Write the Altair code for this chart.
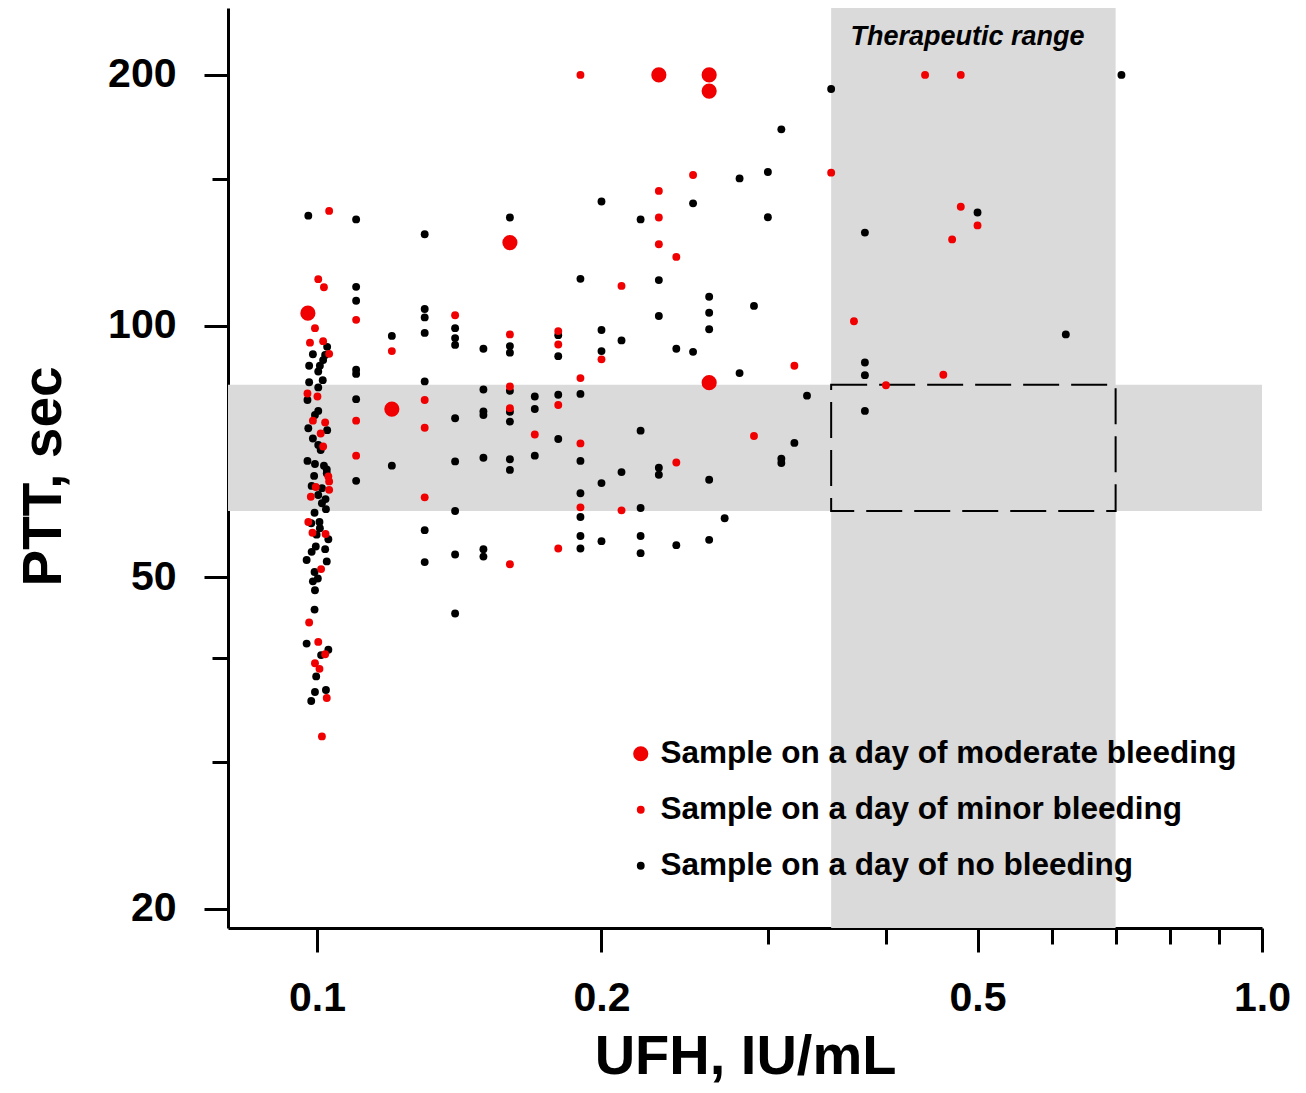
import altair as alt
import pandas as pd

FONT = "Liberation Sans"

LBL_MOD = "Sample on a day of moderate bleeding"
LBL_MIN = "Sample on a day of minor bleeding"
LBL_NONE = "Sample on a day of no bleeding"
groups = [LBL_MOD, LBL_MIN, LBL_NONE]

# (UFH IU/mL, PTT sec)
moderate_pts = [(0.0978, 103.6), (0.12, 79.5), (0.16, 125.9), (0.23, 200),
                (0.26, 200), (0.26, 191.3), (0.26, 85.5)]

minor_pts = [
    (0.1030, 137.4), (0.1003, 113.8), (0.1017, 111.3), (0.0995, 99.4), (0.0983, 95.5),
    (0.1015, 95.9), (0.1030, 92.6), (0.0977, 83.0), (0.1001, 82.3), (0.0990, 77.0),
    (0.1020, 76.6), (0.1009, 74.3), (0.1015, 71.7), (0.1028, 66.0), (0.1030, 65.1),
    (0.0997, 64.1), (0.1030, 63.6), (0.0985, 62.4), (0.0979, 58.2), (0.0989, 56.5),
    (0.1021, 56.3), (0.1010, 51.1), (0.0981, 44.1), (0.1003, 41.8), (0.1020, 40.4),
    (0.0995, 39.4), (0.1006, 38.8), (0.1024, 35.8), (0.1012, 32.2),
    (0.11, 101.7), (0.11, 77.0), (0.11, 69.9),
    (0.12, 93.3),
    (0.13, 81.5), (0.13, 75.5), (0.13, 62.3),
    (0.14, 103.0),
    (0.16, 97.7), (0.16, 84.6), (0.16, 79.7), (0.16, 51.8),
    (0.17, 74.1),
    (0.18, 98.6), (0.18, 95.0), (0.18, 80.4), (0.18, 54.1),
    (0.19, 200), (0.19, 86.6), (0.19, 72.3), (0.19, 60.6),
    (0.20, 91.2),
    (0.21, 111.7), (0.21, 60.1),
    (0.23, 145.2), (0.23, 134.9), (0.23, 125.3),
    (0.24, 121.0), (0.24, 68.6),
    (0.25, 151.7), (0.29, 73.8), (0.32, 89.6), (0.35, 152.7), (0.37, 101.3),
    (0.40, 84.9), (0.44, 200), (0.46, 87.4), (0.47, 127.0),
    (0.48, 200), (0.48, 139.0), (0.50, 132.0),
]

none_pts = [
    (0.0979, 135.6), (0.1025, 94.4), (0.0990, 92.5), (0.1020, 92.3), (0.1015, 91.0),
    (0.0981, 89.6), (0.1007, 89.6), (0.1003, 88.2), (0.1014, 86.1), (0.0981, 85.6),
    (0.1003, 84.4), (0.0977, 81.5), (0.1003, 79.1), (0.0995, 78.2), (0.0979, 75.4),
    (0.1025, 75.0), (0.0990, 73.3), (0.1003, 72.0), (0.1009, 71.0), (0.0977, 68.9),
    (0.0995, 68.3), (0.1017, 68.0), (0.1024, 67.3), (0.0993, 66.1), (0.1024, 66.6),
    (0.0987, 64.3), (0.1012, 63.9), (0.1003, 62.7), (0.1021, 62.0), (0.1012, 61.3),
    (0.1022, 60.3), (0.0994, 59.7), (0.0986, 58.0), (0.1006, 58.2), (0.1007, 57.2),
    (0.0999, 56.2), (0.1028, 55.5), (0.0997, 54.4), (0.1020, 54.0), (0.0987, 53.6),
    (0.0975, 52.4), (0.1024, 52.2), (0.0994, 50.7), (0.1002, 49.8), (0.0990, 49.4),
    (0.0995, 48.2), (0.0994, 45.7), (0.0975, 41.6), (0.1028, 40.9), (0.1010, 40.3),
    (0.0998, 38.0), (0.0995, 36.4), (0.1022, 36.6), (0.0986, 35.5),
    (0.11, 134.2), (0.11, 111.4), (0.11, 107.2), (0.11, 88.6), (0.11, 87.6), (0.11, 81.7), (0.11, 65.2),
    (0.12, 97.3), (0.12, 68.0),
    (0.13, 128.8), (0.13, 104.8), (0.13, 102.4), (0.13, 98.1), (0.13, 85.8), (0.13, 56.9), (0.13, 52.1),
    (0.14, 99.4), (0.14, 96.7), (0.14, 94.9), (0.14, 77.5), (0.14, 68.8), (0.14, 60.0), (0.14, 53.2), (0.14, 45.2),
    (0.15, 93.9), (0.15, 83.9), (0.15, 79.0), (0.15, 78.2), (0.15, 69.5), (0.15, 54.0), (0.15, 52.9),
    (0.16, 134.9), (0.16, 94.6), (0.16, 92.9), (0.16, 83.6), (0.16, 78.9), (0.16, 76.8), (0.16, 69.2), (0.16, 67.2),
    (0.17, 82.3), (0.17, 79.5), (0.17, 69.9),
    (0.18, 97.5), (0.18, 92.0), (0.18, 82.7), (0.18, 73.2),
    (0.19, 113.9), (0.19, 82.9), (0.19, 68.9), (0.19, 63.0), (0.19, 59.0), (0.19, 56.0), (0.19, 54.1),
    (0.20, 141.0), (0.20, 98.9), (0.20, 93.3), (0.20, 64.8), (0.20, 55.2),
    (0.21, 96.1), (0.21, 66.8),
    (0.22, 134.2), (0.22, 74.9), (0.22, 60.5), (0.22, 56.0), (0.22, 53.4),
    (0.23, 113.5), (0.23, 102.8), (0.23, 67.6), (0.23, 66.3),
    (0.24, 93.9), (0.24, 54.6),
    (0.25, 140.3), (0.25, 93.1),
    (0.26, 108.4), (0.26, 103.7), (0.26, 99.1), (0.26, 65.4), (0.26, 55.4),
    (0.27, 58.8), (0.28, 150.3), (0.28, 87.8), (0.29, 105.7),
    (0.30, 153.0), (0.30, 135.0),
    (0.31, 172.1), (0.31, 69.3), (0.31, 68.5),
    (0.32, 72.4), (0.33, 82.5), (0.35, 192.4),
    (0.38, 129.4), (0.38, 90.4), (0.38, 87.3), (0.38, 79.1),
    (0.50, 136.8), (0.62, 97.7), (0.71, 200),
]

therapeutic_ufh = [0.35, 0.7]   # IU/mL
therapeutic_ptt = [60, 85]      # sec

x_ticks = [0.1, 0.2, 0.3, 0.4, 0.5, 0.6, 0.7, 0.8, 0.9, 1.0]
y_ticks = [20, 30, 40, 50, 100, 150, 200]

rows = []
for label, pts in [(LBL_NONE, none_pts), (LBL_MIN, minor_pts), (LBL_MOD, moderate_pts)]:
    for xv, yv in pts:
        rows.append({"ufh": xv, "ptt": yv, "group": label})
df = pd.DataFrame(rows)
df["z"] = range(len(df))

RED = "#f00000"
GRAY = "#dadada"

xscale = alt.Scale(type="log", domain=[0.0805, 1.0], nice=False, zero=False)
yscale = alt.Scale(type="log", domain=[18.97, 240.6], nice=False, zero=False)

xaxis = alt.Axis(
    values=x_ticks,
    labelExpr="(datum.value == 0.1 || datum.value == 0.2 || datum.value == 0.5) ? format(datum.value, '.1f') : (datum.value == 1 ? '1.0' : '')",
    tickSize={"condition": {"test": "datum.value == 0.1 || datum.value == 0.2 || datum.value == 0.5 || datum.value == 1", "value": 24}, "value": 16},
    labelPadding=26, labelFontSize=41, labelFlush=False, labelOverlap=False,
    titleFontSize=56, titleX=517, titleY=145, titleBaseline="alphabetic", titleAlign="center",
)
yaxis = alt.Axis(
    values=y_ticks,
    labelExpr="(datum.value == 20 || datum.value == 50 || datum.value == 100 || datum.value == 200) ? format(datum.value, 'd') : ''",
    tickSize={"condition": {"test": "datum.value == 20 || datum.value == 50 || datum.value == 100 || datum.value == 200", "value": 24}, "value": 16},
    labelPadding=28, labelFontSize=41, labelFlush=False, labelOverlap=False,
    titleFontSize=55, titleX=-168, titleY=468, titleBaseline="alphabetic", titleAlign="center", titleAngle=270,
)

XT = "UFH, IU/mL"
YT = "PTT, sec"

vband = alt.Chart(pd.DataFrame({"x1": [therapeutic_ufh[0]], "x2": [therapeutic_ufh[1]]})).mark_rect(
    color=GRAY).encode(
    x=alt.X("x1:Q", scale=xscale, axis=xaxis, title=XT), x2="x2:Q")

hband = alt.Chart(pd.DataFrame({"y1": [therapeutic_ptt[0]], "y2": [therapeutic_ptt[1]]})).mark_rect(
    color=GRAY).encode(
    y=alt.Y("y1:Q", scale=yscale, axis=yaxis, title=YT), y2="y2:Q")

box = alt.Chart(pd.DataFrame({"x1": [therapeutic_ufh[0]], "x2": [therapeutic_ufh[1]],
                              "y1": [therapeutic_ptt[0]], "y2": [therapeutic_ptt[1]]})).mark_rect(
    fillOpacity=0, stroke="black", strokeWidth=2, strokeDash=[36, 12]).encode(
    x=alt.X("x1:Q", scale=xscale, axis=xaxis, title=XT), x2="x2:Q",
    y=alt.Y("y1:Q", scale=yscale, axis=yaxis, title=YT), y2="y2:Q")

legend_cfg = dict(orient="none", legendX=397, legendY=730, direction="vertical",
                  labelFontSize=31.5, labelFont=FONT, labelFontWeight="bold",
                  labelLimit=0, symbolType="circle", symbolStrokeWidth=0,
                  rowPadding=23, labelOffset=4, padding=0, symbolOpacity=1)

points = alt.Chart(df).mark_circle(opacity=1, strokeWidth=0).encode(
    x=alt.X("ufh:Q", scale=xscale, axis=xaxis, title=XT),
    y=alt.Y("ptt:Q", scale=yscale, axis=yaxis, title=YT),
    color=alt.Color("group:N", title=None,
                    scale=alt.Scale(domain=groups, range=[RED, RED, "#000000"]),
                    legend=alt.Legend(**legend_cfg)),
    size=alt.Size("group:N", title=None,
                  scale=alt.Scale(type="ordinal", domain=groups, range=[230, 62, 62]),
                  legend=alt.Legend(**legend_cfg)),
    order=alt.Order("z:Q"),
)

label_df = pd.DataFrame({"x": [0.488], "y": [222.0], "t": ["Therapeutic range"]})
label = alt.Chart(label_df).mark_text(font=FONT, fontSize=27, fontWeight="bold", fontStyle="italic",
                                      color="black", align="center", baseline="middle").encode(
    x=alt.X("x:Q", scale=xscale, axis=xaxis, title=XT),
    y=alt.Y("y:Q", scale=yscale, axis=yaxis, title=YT),
    text="t:N")

chart = alt.layer(vband, hband, box, points, label).properties(
    width=1034, height=920,
    autosize=alt.AutoSizeParams(type="none"),
    padding={"left": 220, "top": 0, "right": 36, "bottom": 157},
).configure_view(stroke=None).configure_axis(
    grid=False, domainColor="black", domainWidth=3, tickColor="black", tickWidth=3,
    labelFont=FONT, labelFontWeight="bold", labelColor="black",
    titleFont=FONT, titleFontWeight="bold", titleColor="black",
)

chart.save("out.html", embed_options={"renderer": "svg", "actions": False})
